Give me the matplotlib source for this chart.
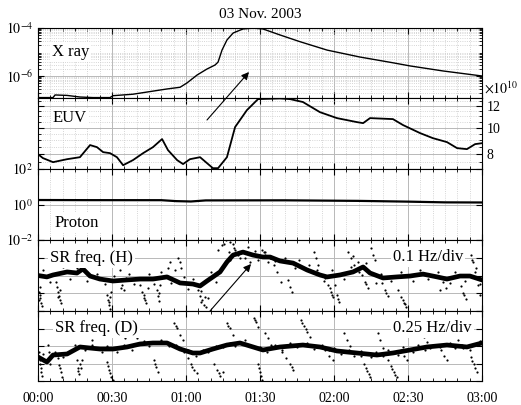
import matplotlib
matplotlib.use('Agg')
import matplotlib.pyplot as plt
from matplotlib.ticker import FixedLocator, NullFormatter, MultipleLocator, LogLocator

plt.rcParams['font.family'] = ['Liberation Serif', 'DejaVu Serif']
plt.rcParams['mathtext.fontset'] = 'stix'

title = '03 Nov. 2003'
time_ticks = [0, 30, 60, 90, 120, 150, 180]
time_labels = ['00:00', '00:30', '01:00', '01:30', '02:00', '02:30', '03:00']

# X ray flux (W/m^2), time in minutes after 00:00
xray_t = [0, 6.1, 6.9, 11.8, 17.0, 22.3, 29.2, 30.4, 38.5, 45.4, 52.3, 57.6, 60.4,
          64.5, 68.5, 71.8, 73.0, 74.6, 76.6, 79.1, 83.1, 87.2, 91.2, 98.1, 106.2,
          117.2, 130.5, 143.9, 150.8, 164.2, 180]
xray_v = [1.26e-7, 1.26e-7, 1.62e-7, 1.55e-7, 1.33e-7, 1.26e-7, 1.26e-7, 1.51e-7,
          1.74e-7, 2.24e-7, 2.88e-7, 3.39e-7, 5.13e-7, 1.10e-6, 1.95e-6, 2.88e-6,
          3.80e-6, 1.20e-5, 3.16e-5, 6.17e-5, 9.12e-5, 9.9e-5, 9.12e-5, 5.13e-5,
          2.69e-5, 1.20e-5, 6.17e-6, 3.55e-6, 2.63e-6, 1.62e-6, 1.0e-6]

# EUV (x 10^10)
euv_t = [0, 2.0, 6.1, 11.8, 17.0, 21.1, 23.9, 26.4, 29.2, 32.0, 34.5, 38.5, 42.6,
         46.6, 50.3, 52.7, 56.4, 58.8, 61.6, 65.7, 68.5, 70.9, 73.0, 76.6, 79.9,
         84.7, 89.2, 98.0, 102.2, 107.4, 114.3, 121.2, 129.3, 131.8, 134.6, 143.9,
         148.0, 154.9, 160.1, 165.8, 169.9, 173.9, 177.2, 180]
euv_v = [7.99, 7.73, 7.47, 7.66, 7.79, 8.63, 8.48, 8.13, 8.06, 7.79, 7.28, 7.60,
         8.06, 8.48, 9.08, 8.27, 7.60, 7.35, 7.66, 7.79, 7.41, 7.10, 7.10, 7.79,
         10.05, 11.60, 12.73, 12.80, 12.73, 12.42, 11.40, 10.84, 10.48, 10.39,
         10.84, 10.75, 10.22, 9.55, 9.15, 8.85, 8.41, 8.34, 8.70, 8.77]

# Proton flux
proton_t = [0, 20, 50, 56, 62, 68, 100, 130, 150, 165, 180]
proton_v = [1.79, 1.76, 1.75, 1.55, 1.48, 1.70, 1.72, 1.60, 1.45, 1.32, 1.30]

# SR frequency (H), deviation in Hz: running mean
srh_t = [0, 3.6, 6.1, 11.8, 15.8, 18.2, 21.1, 25.1, 30.4, 36.1, 41.4, 46.6, 52.3,
         57.6, 62.8, 65.7, 68.5, 70.9, 73.8, 76.6, 79.1, 83.1, 87.2, 91.2, 94.1,
         98.1, 103.4, 109.1, 114.3, 117.2, 122.4, 127.7, 131.8, 134.6, 139.9,
         145.5, 150.8, 156.1, 161.8, 165.8, 171.1, 175.1, 180]
srh_v = [0.000, -0.008, 0.003, 0.020, 0.014, 0.037, -0.003, -0.020, -0.031, -0.025,
         -0.020, -0.020, -0.008, -0.042, -0.048, -0.059, -0.031, -0.008, 0.020,
         0.076, 0.115, 0.132, 0.115, 0.104, 0.104, 0.082, 0.070, 0.031, 0.003,
         -0.008, 0.003, 0.020, 0.048, 0.014, -0.014, -0.008, -0.003, 0.008,
         -0.008, -0.020, -0.003, -0.003, -0.025]
# SR frequency (H): scattered raw points (excursions)
srh_pt = [0.4, 0.8, 1.2, 1.6, 0.8, 7.3, 7.7, 8.1, 8.5, 8.9, 9.3, 17.4, 18.2, 19.1,
          19.9, 28.0, 28.4, 28.8, 29.2, 29.6, 32.4, 33.2, 34.1, 34.9, 35.7, 41.4,
          42.2, 43.0, 43.8, 44.6, 48.2, 48.6, 49.1, 49.5, 52.7, 53.5, 55.5, 56.8,
          57.6, 58.0, 64.9, 65.7, 66.5, 67.3, 68.1, 68.9, 73.0, 74.6, 76.2, 77.8,
          79.5, 81.1, 77.4, 83.9, 85.9, 90.8, 92.0, 93.2, 94.1, 95.7, 96.9, 98.5,
          101.4, 102.2, 103.0, 111.9, 112.7, 113.5, 116.3, 117.6, 118.8, 119.6,
          120.4, 121.2, 122.0, 125.7, 126.9, 128.1, 129.7, 131.3, 132.6, 133.8,
          135.0, 135.8, 136.6, 139.5, 140.7, 141.9, 145.9, 147.2, 148.4, 149.2,
          164.2, 165.4, 163.0, 171.5, 172.3, 173.5, 175.5, 176.4, 177.6, 178.4,
          179.2, 1.0, 0.3, 8.0, 9.0, 28.6, 29.0, 33.8, 42.8, 43.4, 48.9, 66.0,
          67.8, 75.5, 79.0, 91.5, 118.2, 119.0, 121.6, 127.5, 133.0, 141.0, 147.8,
          148.8, 172.8, 176.0]
srh_pv = [-0.093, -0.127, -0.155, -0.172, -0.065, -0.037, -0.065, -0.093, -0.115,
          -0.138, -0.155, 0.048, 0.070, 0.031, 0.059, -0.110, -0.138, -0.166,
          -0.189, -0.093, 0.076, 0.031, -0.054, -0.082, -0.014, -0.054, -0.093,
          -0.127, -0.155, -0.070, -0.082, -0.115, -0.144, -0.054, 0.042, 0.076,
          0.031, 0.099, 0.076, 0.042, -0.082, -0.115, -0.138, -0.166, -0.177,
          -0.127, 0.144, 0.172, 0.200, 0.189, 0.155, 0.115, 0.132, 0.099, 0.076,
          0.144, 0.115, 0.076, 0.099, 0.059, 0.020, -0.037, -0.025, -0.065,
          -0.093, 0.132, 0.099, 0.059, -0.014, -0.054, -0.093, -0.121, -0.054,
          -0.110, -0.149, 0.132, 0.099, 0.059, 0.076, 0.003, -0.037, -0.070,
          0.155, 0.115, 0.087, -0.042, -0.082, -0.115, -0.082, -0.121, -0.155,
          -0.177, -0.037, -0.070, -0.082, -0.059, -0.099, -0.132, 0.115, 0.076,
          0.042, -0.054, -0.110, -0.11, -0.14, -0.12, -0.08, -0.15, -0.12, -0.07,
          -0.11, -0.14, -0.10, -0.15, -0.12, 0.18, 0.18, 0.13, -0.07, -0.11,
          -0.13, 0.11, -0.05, -0.10, -0.14, -0.16, -0.11, 0.09]
# SR frequency (H): raw points close to the running mean
srh_nt = [2, 5, 10, 13, 16, 20, 24, 27, 31, 37, 39, 45, 47, 50, 54, 59, 61, 63, 66,
          70, 72, 75, 78, 80, 82, 85, 88, 89, 92, 96, 100, 104, 106, 110, 113, 116,
          119, 124, 127, 130, 133, 137, 139, 143, 147, 152, 155, 158, 162, 167,
          169, 173, 177, 179]
srh_nv = [0.03, -0.035, 0.05, -0.02, 0.045, -0.03, 0.01, -0.05, 0.0, 0.01, -0.05,
          0.01, -0.05, 0.02, -0.04, -0.01, -0.075, -0.02, -0.085, 0.02, -0.035,
          0.05, 0.09, 0.145, 0.10, 0.16, 0.14, 0.09, 0.13, 0.08, 0.10, 0.045, 0.09,
          0.06, 0.03, -0.03, 0.03, -0.02, 0.05, 0.02, 0.07, -0.04, 0.01, -0.03,
          0.02, -0.03, 0.03, -0.02, 0.02, -0.045, 0.02, -0.03, 0.02, -0.05]

# SR frequency (D), deviation in Hz: running mean
srd_t = [0, 3.6, 6.1, 11.8, 17.0, 21.1, 25.1, 30.4, 36.1, 41.4, 46.6, 52.3, 57.6,
         62.8, 65.7, 70.9, 76.6, 81.9, 87.2, 91.2, 98.1, 107.4, 114.3, 121.2,
         129.3, 137.4, 143.9, 150.8, 157.7, 165.8, 173.9, 180]
srd_v = [-0.157, -0.229, -0.129, -0.114, -0.014, -0.029, -0.043, -0.043, -0.014,
         0.029, 0.043, 0.043, -0.043, -0.100, -0.100, -0.043, 0.014, 0.043,
         -0.014, -0.057, -0.014, 0.014, -0.014, -0.071, -0.100, -0.129, -0.100,
         -0.057, -0.014, 0.014, -0.014, 0.043]
# SR frequency (D): scattered raw points (excursions)
srd_pt = [0.4, 0.8, 1.2, 1.6, 4.1, 4.5, 8.1, 8.5, 9.3, 9.7, 15.8, 16.2, 16.6, 17.4,
          17.8, 21.9, 23.1, 28.0, 28.8, 29.6, 30.4, 34.1, 35.3, 38.9, 40.1, 41.4,
          47.0, 47.8, 48.6, 55.1, 56.4, 57.6, 58.8, 60.8, 62.0, 63.2, 64.5, 71.4,
          72.6, 73.8, 75.0, 76.6, 77.8, 79.1, 87.6, 88.4, 89.2, 89.2, 90.0, 90.8,
          92.0, 93.2, 94.5, 98.9, 100.5, 102.2, 103.4, 106.6, 107.8, 109.1, 110.3,
          116.3, 118.0, 119.6, 124.1, 125.3, 126.5, 130.9, 132.2, 133.4, 134.6,
          137.8, 138.6, 139.9, 141.9, 143.1, 144.3, 145.5, 147.2, 148.4, 149.6,
          156.5, 157.7, 158.9, 163.4, 164.6, 165.8, 170.3, 171.5, 172.3, 175.5,
          176.7, 178.0, 1.0, 1.4, 9.0, 16.4, 17.0, 29.2, 28.4, 47.4, 56.0, 62.6,
          73.2, 77.2, 88.0, 90.4, 89.6, 102.8, 107.2, 108.5, 133.0, 134.0, 143.7,
          144.9, 176.0, 177.3]
srd_pv = [-0.086, -0.200, -0.314, -0.429, 0.014, -0.086, -0.171, -0.271, -0.372,
          -0.443, -0.200, -0.314, -0.400, -0.314, -0.200, 0.086, 0.157, -0.229,
          -0.343, -0.443, -0.486, 0.186, 0.114, 0.186, 0.114, 0.029, -0.200,
          -0.300, -0.372, 0.329, 0.257, 0.157, 0.086, -0.171, -0.257, -0.343,
          -0.386, -0.257, -0.343, -0.429, -0.372, 0.329, 0.257, 0.157, 0.400,
          0.343, 0.271, -0.257, -0.372, -0.486, 0.186, 0.114, 0.014, -0.086,
          -0.171, -0.257, -0.343, 0.372, 0.286, 0.200, 0.129, -0.057, -0.143,
          -0.200, 0.186, 0.086, 0.000, -0.143, -0.257, -0.357, -0.443, 0.186,
          0.086, -0.029, -0.200, -0.286, -0.372, -0.443, -0.057, -0.143, -0.200,
          0.129, 0.057, -0.029, -0.057, -0.143, -0.200, 0.086, 0.014, -0.029,
          -0.157, -0.257, -0.372, -0.26, -0.37, -0.32, -0.36, -0.26, -0.39,
          -0.29, -0.25, 0.29, -0.30, -0.39, 0.29, 0.37, -0.43, -0.31, -0.30, 0.33,
          0.24, -0.31, -0.40, -0.33, -0.41, -0.21, -0.31]
# SR frequency (D): raw points close to the running mean
srd_nt = [2, 5, 7, 10, 13, 15, 19, 22, 26, 28, 32, 35, 38, 43, 45, 50, 53, 56, 59,
          61, 64, 67, 69, 72, 75, 78, 80, 84, 86, 90, 93, 96, 99, 102, 105, 109,
          112, 115, 118, 120, 123, 126, 128, 131, 135, 137, 140, 142, 146, 148,
          152, 154, 157, 160, 163, 167, 169, 172, 175, 177, 179]
srd_nv = [-0.12, -0.26, -0.09, -0.15, -0.07, 0.02, -0.06, 0.01, -0.08, 0.0, -0.08,
          0.02, -0.05, 0.07, 0.0, 0.08, 0.0, 0.01, -0.08, -0.06, -0.14, -0.06,
          -0.08, 0.0, -0.02, 0.05, 0.0, 0.08, 0.02, -0.02, -0.09, 0.02, -0.05, 0.05,
          -0.02, 0.05, -0.04, 0.02, -0.05, -0.03, -0.11, -0.06, -0.14, -0.07,
          -0.16, -0.09, -0.14, -0.06, -0.13, -0.02, -0.09, 0.02, -0.05, 0.02,
          -0.02, 0.05, -0.03, 0.02, -0.05, 0.03, 0.07]

W, H = 521, 405
fig = plt.figure(figsize=(W / 100, H / 100), dpi=100)

panel_px = [(28, 98), (98, 169), (169, 240), (240, 311), (311, 381)]
left, right = 38, 482
axes = []
for top, bot in panel_px:
    ax = fig.add_axes([left / W, 1 - bot / H, (right - left) / W, (bot - top) / H])
    axes.append(ax)

MAJ = dict(color='#b8b8b8', linestyle='-', linewidth=0.7)
MIN = dict(color='#c8c8c8', linestyle=':', linewidth=0.6)

for i, ax in enumerate(axes):
    ax.set_xlim(0, 180)
    ax.set_xticks(time_ticks)
    ax.xaxis.set_minor_locator(MultipleLocator(5))
    ax.tick_params(axis='both', which='both', direction='in', top=True, right=True,
                   labelsize=10)
    ax.tick_params(which='major', length=4)
    ax.tick_params(which='minor', length=2)
    ax.grid(True, which='major', axis='x', **MAJ)
    if i < 3:
        ax.grid(True, which='minor', axis='x', **MIN)
    if i < 4:
        ax.set_xticklabels([])
    else:
        ax.set_xticklabels(time_labels)
        ax.tick_params(axis='x', pad=8)
    for s in ax.spines.values():
        s.set_linewidth(0.8)
    ax.set_axisbelow(True)

# X ray
ax = axes[0]
ax.set_yscale('log')
ax.set_ylim(1.21e-7, 1e-4)
ax.plot(xray_t, xray_v, color='k', lw=1.0)
ax.set_yticks([1e-6, 1e-4])
ax.set_yticklabels([r'$10^{-6}$', r'$10^{-4}$'])
ax.yaxis.set_minor_locator(LogLocator(base=10, subs=range(2, 10)))
ax.yaxis.set_minor_formatter(NullFormatter())
ax.grid(True, which='major', axis='y', **MAJ)
ax.grid(True, which='minor', axis='y', **MIN)

# EUV
ax = axes[1]
ax.set_yscale('log')
ax.set_ylim(7.05, 12.85)
ax.plot(euv_t, euv_v, color='k', lw=1.3)
ax.yaxis.set_major_locator(FixedLocator([8, 10, 12]))
ax.yaxis.set_minor_locator(FixedLocator([7.5, 8.5, 9, 9.5, 10.5, 11, 11.5, 12.5]))
ax.yaxis.set_minor_formatter(NullFormatter())
ax.set_yticklabels(['8', '10', '12'])
ax.tick_params(axis='y', labelleft=False, labelright=True)
ax.grid(True, which='major', axis='y', **MAJ)
ax.grid(True, which='minor', axis='y', **MIN)
fig.text(484 / W, 1 - 88 / H, r'$\times10^{10}$', fontsize=10, va='center', ha='left')

# Proton
ax = axes[2]
ax.set_yscale('log')
ax.set_ylim(1e-2, 1e2)
ax.plot(proton_t, proton_v, color='k', lw=1.6)
ax.set_yticks([1e-2, 1e0, 1e2])
ax.set_yticklabels([r'$10^{-2}$', r'$10^{0}$', r'$10^{2}$'])
ax.yaxis.set_minor_locator(LogLocator(base=10, subs=range(2, 10)))
ax.yaxis.set_minor_formatter(NullFormatter())
ax.grid(True, which='major', axis='y', **MAJ)
ax.grid(True, which='minor', axis='y', **MIN)

# SR H
ax = axes[3]
ax.set_ylim(-0.2, 0.2)
ax.yaxis.set_major_locator(MultipleLocator(0.1))
ax.set_yticklabels([])
ax.grid(True, which='major', axis='y', **MAJ)
ax.scatter(srh_pt, srh_pv, s=2.5, color='k', linewidths=0)
ax.scatter(srh_nt, srh_nv, s=2.5, color='k', linewidths=0)
ax.plot(srh_t, srh_v, color='k', lw=3.4)

# SR D
ax = axes[4]
ax.set_ylim(-0.5, 0.5)
ax.yaxis.set_major_locator(MultipleLocator(0.25))
ax.set_yticklabels([])
ax.grid(True, which='major', axis='y', **MAJ)
ax.scatter(srd_pt, srd_pv, s=2.5, color='k', linewidths=0)
ax.scatter(srd_nt, srd_nv, s=2.5, color='k', linewidths=0)
ax.plot(srd_t, srd_v, color='k', lw=3.4)

fig.text(260 / W, 1 - 14 / H, title, fontsize=11, ha='center', va='center')

box = dict(facecolor='white', edgecolor='none', pad=1.5)
labels = [('X ray', 52, 52), ('EUV', 53, 118), ('Proton', 55, 223),
          ('SR freq. (H)', 50, 258), ('SR freq. (D)', 55, 328),
          ('0.1 Hz/div', 393, 257), ('0.25 Hz/div', 393, 328)]
for txt, x, y in labels:
    fig.text(x / W, 1 - y / H, txt, fontsize=12, ha='left', va='center', bbox=box)

arrow = dict(arrowstyle='-|>', lw=0.8, color='k', mutation_scale=11,
             shrinkA=0, shrinkB=0)
fig.add_artist(matplotlib.patches.FancyArrowPatch(
    (207 / W, 1 - 120 / H), (249 / W, 1 - 72 / H), transform=fig.transFigure, **arrow))
fig.add_artist(matplotlib.patches.FancyArrowPatch(
    (210 / W, 1 - 311 / H), (251 / W, 1 - 264 / H), transform=fig.transFigure, **arrow))

fig.savefig('out.png', dpi=100)
